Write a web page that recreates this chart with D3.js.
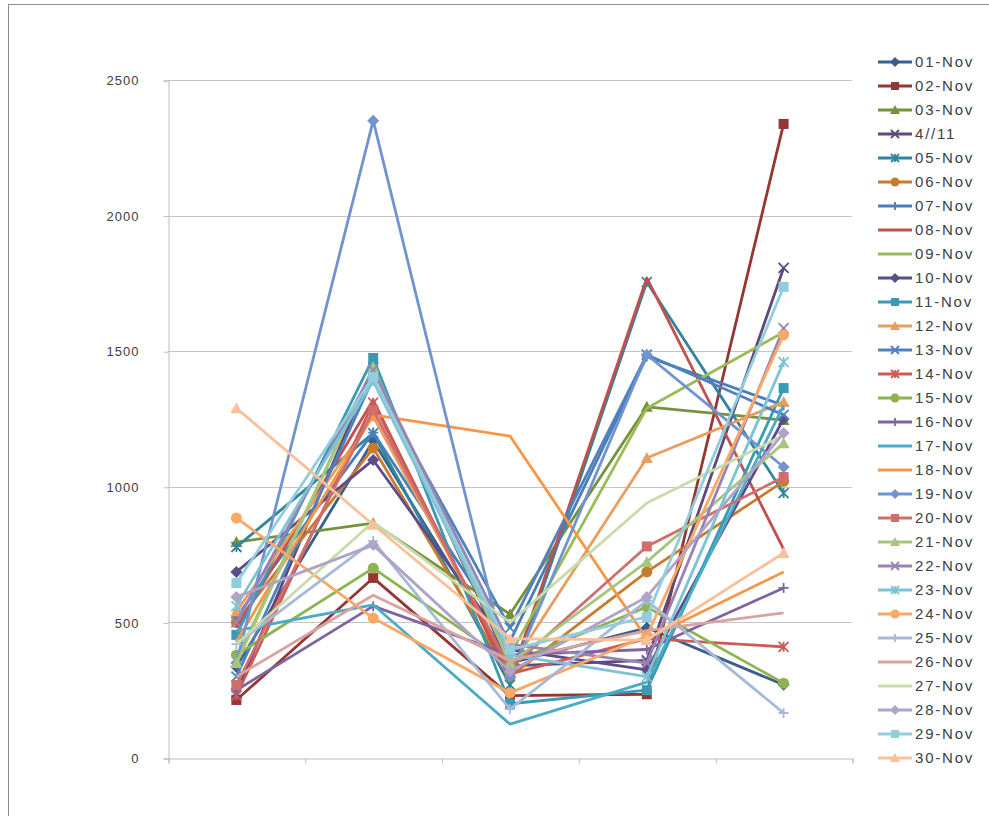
<!DOCTYPE html>
<html>

<head>
    <meta charset="utf-8">
    <title>November lines</title>
    <style>
        body { margin: 0; background: #fff; }
        svg text { font-family: "Liberation Sans", "DejaVu Sans", sans-serif; fill: #404040; }
    </style>
</head>
<script src="https://cdn.jsdelivr.net/npm/d3@7"></script>

<body>
    <div id="chart"></div>
    <script>
        // series names, as in the legend
        const seriesNames = [
            "01-Nov", "02-Nov", "03-Nov", "4//11", "05-Nov", "06-Nov", "07-Nov", "08-Nov", "09-Nov", "10-Nov",
            "11-Nov", "12-Nov", "13-Nov", "14-Nov", "15-Nov", "16-Nov", "17-Nov", "18-Nov", "19-Nov", "20-Nov",
            "21-Nov", "22-Nov", "23-Nov", "24-Nov", "25-Nov", "26-Nov", "27-Nov", "28-Nov", "29-Nov", "30-Nov"
        ];

        // five unlabelled categories on the x axis
        const categories = [0, 1, 2, 3, 4];

        // values per series
        const seriesValues = [
            [336, 1170, 350, 480, 270],
            [214, 664, 230, 235, 2338],
            [796, 866, 530, 1295, 1246],
            [240, 1440, 340, 360, 1807],
            [778, 1198, 270, 1755, 977],
            [500, 1143, 300, 686, 1020],
            [520, 1200, 430, 1480, 1300],
            [480, 1320, 290, 1770, 770],
            [360, 1440, 380, 1290, 1570],
            [686, 1099, 400, 325, 1250],
            [454, 1475, 200, 250, 1364],
            [540, 1260, 330, 1106, 1313],
            [300, 1400, 480, 1487, 1265],
            [230, 1310, 310, 440, 410],
            [380, 700, 350, 557, 276],
            [250, 560, 380, 400, 627],
            [470, 565, 125, 280, 1300],
            [430, 1265, 1187, 440, 686],
            [350, 2350, 300, 1487, 1073],
            [269, 1283, 330, 780, 1036],
            [350, 1440, 350, 723, 1161],
            [500, 1430, 420, 350, 1585],
            [560, 1390, 380, 300, 1460],
            [885, 516, 240, 450, 1560],
            [420, 800, 180, 580, 166],
            [300, 600, 360, 470, 535],
            [420, 870, 500, 940, 1190],
            [594, 785, 320, 594, 1198],
            [645, 1405, 400, 520, 1737],
            [1290, 860, 440, 435, 756]
        ];

        const yTicks = [0, 500, 1000, 1500, 2000, 2500];

        const seriesColors = [
            "#3A5F8B", "#943634", "#76923C", "#5F497A", "#31859C", "#C77B30",
            "#4A7EBB", "#C0504D", "#9BBB59", "#5C4C8C", "#3A9AB5", "#E89E5E",
            "#4F81BD", "#CD5A57", "#8DB450", "#8064A2", "#4BACC6", "#F79646",
            "#7094CF", "#D06E6C", "#A9C47F", "#9883B5", "#7CC3D6", "#F9A866",
            "#A6B9D8", "#D9A3A2", "#C8DBAA", "#B0A3C8", "#93CDDD", "#F9C09A"
        ];

        // excel marker cycle
        const markerCycle = ["diamond", "square", "triangle", "x", "star", "circle", "plus", "none", "none"];

        const svg = d3.select("#chart").append("svg")
            .attr("width", 989)
            .attr("height", 816);

        // chart area border
        svg.append("rect")
            .attr("x", 8.5).attr("y", 4.5)
            .attr("width", 1100).attr("height", 1000)
            .attr("fill", "none")
            .attr("stroke", "#8c8c8c");

        const plot = { left: 168, right: 852, top: 80, bottom: 758 };

        const x = d3.scalePoint().domain(categories).range([plot.left, plot.right]).padding(0.5);
        const xEdges = d3.scaleLinear().domain([0, categories.length]).range([plot.left, plot.right]);
        const y = d3.scaleLinear().domain([0, 2500]).range([plot.bottom, plot.top]);

        // gridlines
        svg.append("g")
            .selectAll("line")
            .data(yTicks.slice(1))
            .join("line")
            .attr("x1", plot.left).attr("x2", plot.right)
            .attr("y1", d => Math.round(y(d)) + 0.5).attr("y2", d => Math.round(y(d)) + 0.5)
            .attr("stroke", "#c4c4c4");

        // y axis
        const yAxis = svg.append("g")
            .attr("transform", "translate(" + (plot.left + 0.5) + ",0.5)")
            .call(d3.axisLeft(y).tickValues(yTicks).tickSize(5).tickPadding(24).tickFormat(d3.format("d")));
        yAxis.select(".domain").attr("stroke", "#bdbdbd");
        yAxis.selectAll(".tick line").attr("stroke", "#bdbdbd");
        yAxis.selectAll("text")
            .style("font-size", "13px")
            .style("letter-spacing", "1px")
            .attr("fill", "#404040");

        // x axis (ticks only)
        const xAxis = svg.append("g")
            .attr("transform", "translate(0.5," + (plot.bottom + 0.5) + ")")
            .call(d3.axisBottom(xEdges).tickValues(d3.range(categories.length + 1)).tickSize(5).tickFormat(""));
        xAxis.select(".domain").attr("stroke", "#bdbdbd");
        xAxis.selectAll(".tick line").attr("stroke", "#bdbdbd");

        function drawMarker(g, type, color, cx, cy, s) {
            const h = s / 2;
            switch (type) {
                case "diamond":
                    g.append("path")
                        .attr("d", `M${cx},${cy - h - 1}L${cx + h + 1},${cy}L${cx},${cy + h + 1}L${cx - h - 1},${cy}Z`)
                        .attr("fill", color);
                    break;
                case "square":
                    g.append("rect")
                        .attr("x", cx - h).attr("y", cy - h)
                        .attr("width", s).attr("height", s)
                        .attr("fill", color);
                    break;
                case "triangle":
                    g.append("path")
                        .attr("d", `M${cx},${cy - h - 1}L${cx + h + 1},${cy + h}L${cx - h - 1},${cy + h}Z`)
                        .attr("fill", color);
                    break;
                case "circle":
                    g.append("circle")
                        .attr("cx", cx).attr("cy", cy).attr("r", h + 0.5)
                        .attr("fill", color);
                    break;
                case "x":
                case "star":
                case "plus": {
                    let d = "";
                    if (type !== "plus") d += `M${cx - h},${cy - h}L${cx + h},${cy + h}M${cx - h},${cy + h}L${cx + h},${cy - h}`;
                    if (type === "star") d += `M${cx},${cy - h}L${cx},${cy + h}`;
                    if (type === "plus") d += `M${cx - h},${cy}L${cx + h},${cy}M${cx},${cy - h}L${cx},${cy + h}`;
                    g.append("path")
                        .attr("d", d)
                        .attr("stroke", color)
                        .attr("stroke-width", 1.8)
                        .attr("fill", "none");
                    break;
                }
            }
        }

        const line = d3.line()
            .x((d, i) => x(categories[i]))
            .y(d => y(d));

        // lines and markers, in series order
        seriesValues.forEach(function (vals, si) {
            const g = svg.append("g").attr("class", "series");
            g.append("path")
                .attr("d", line(vals))
                .attr("fill", "none")
                .attr("stroke", seriesColors[si])
                .attr("stroke-width", 2.8)
                .attr("stroke-linejoin", "round");
            const mk = markerCycle[si % markerCycle.length];
            if (mk !== "none") {
                vals.forEach(function (v, i) {
                    drawMarker(g, mk, seriesColors[si], x(categories[i]), y(v), 10);
                });
            }
        });

        // legend
        const legend = svg.append("g").attr("transform", "translate(878,62)");
        seriesNames.forEach(function (name, si) {
            const row = legend.append("g").attr("transform", "translate(0," + (si * 24) + ")");
            row.append("line")
                .attr("x1", 0).attr("x2", 34)
                .attr("y1", 0).attr("y2", 0)
                .attr("stroke", seriesColors[si])
                .attr("stroke-width", 2.8);
            const mk = markerCycle[si % markerCycle.length];
            if (mk !== "none") drawMarker(row, mk, seriesColors[si], 17, 0, 8);
            row.append("text")
                .attr("x", 37)
                .attr("y", 5)
                .style("font-size", "15px")
                .style("letter-spacing", "1.8px")
                .text(name);
        });
    </script>
</body>

</html>
